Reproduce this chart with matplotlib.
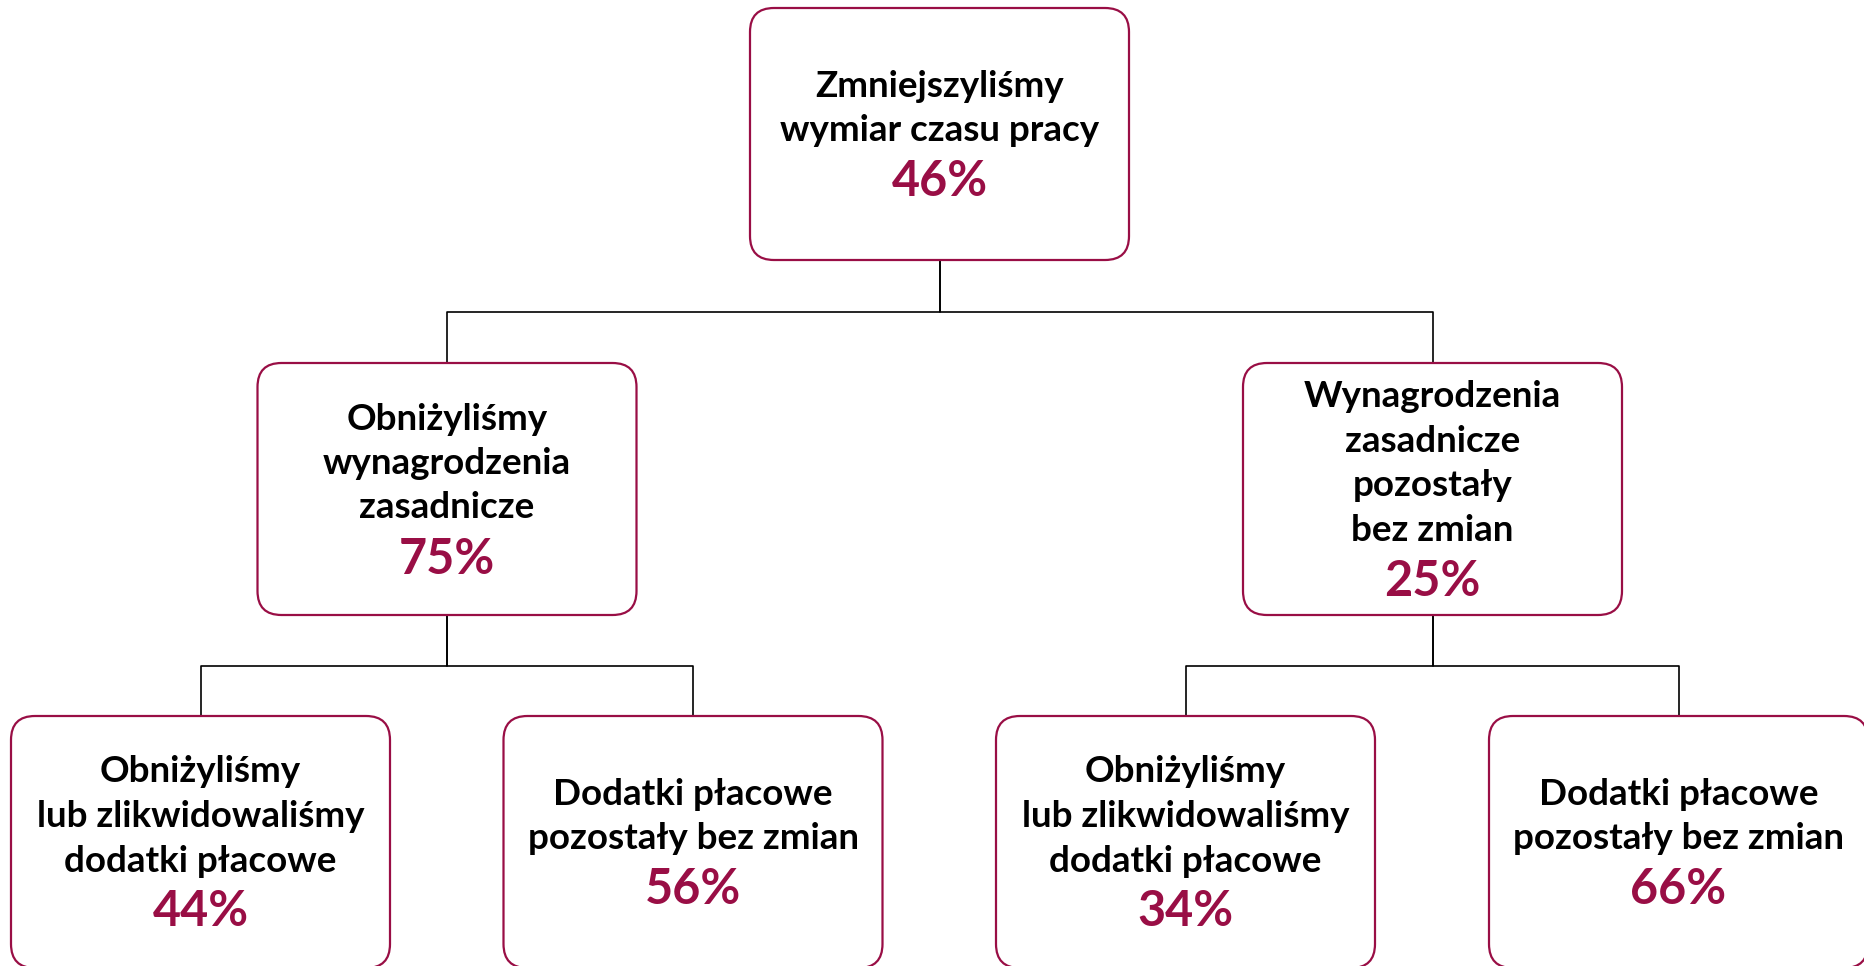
import matplotlib
matplotlib.use("Agg")
import matplotlib.pyplot as plt
from matplotlib.patches import FancyBboxPatch

# ---- data ----
labels = [
    ["Zmniejszyliśmy", "wymiar czasu pracy"],
    ["Obniżyliśmy", "wynagrodzenia", "zasadnicze"],
    ["Wynagrodzenia", "zasadnicze", "pozostały", "bez zmian"],
    ["Obniżyliśmy", "lub zlikwidowaliśmy", "dodatki płacowe"],
    ["Dodatki płacowe", "pozostały bez zmian"],
    ["Obniżyliśmy", "lub zlikwidowaliśmy", "dodatki płacowe"],
    ["Dodatki płacowe", "pozostały bez zmian"],
]
values = [46, 75, 25, 44, 56, 34, 66]
parents = [None, 0, 0, 1, 1, 2, 2]

# ---- layout (pixels) ----
W, H = 1864, 966
box_w, box_h = 379, 252
centers_x = [939.5, 447, 1432.5, 200.5, 693, 1185.5, 1678.5]
tops_y = [8, 363, 363, 716, 716, 716, 716]
line_gap = 44.5
pct_gap = 51
crimson = "#990E45"

fig = plt.figure(figsize=(W / 100, H / 100), dpi=100)
ax = fig.add_axes([0, 0, 1, 1])
ax.set_xlim(0, W)
ax.set_ylim(H, 0)
ax.axis("off")

font = "Lato"

# connectors
for i, p in enumerate(parents):
    if p is None:
        continue
    px = centers_x[p]
    pb = tops_y[p] + box_h
    ct = tops_y[i]
    mid = (pb + ct) / 2
    ax.plot([px, px, centers_x[i], centers_x[i]], [pb, mid, mid, ct],
            color="black", lw=1.2, solid_capstyle="butt", zorder=1)

for i, (lab, val) in enumerate(zip(labels, values)):
    cx = centers_x[i]
    top = tops_y[i]
    box = FancyBboxPatch((cx - box_w / 2, top), box_w, box_h,
                         boxstyle="round,pad=0,rounding_size=24",
                         linewidth=1.6, edgecolor=crimson, facecolor="white",
                         zorder=2)
    ax.add_patch(box)
    n = len(lab)
    span = (n - 1) * line_gap + pct_gap
    cy = top + box_h / 2
    y0 = cy - span / 2
    for k, line in enumerate(lab):
        ax.text(cx, y0 + k * line_gap, line, ha="center", va="center",
                fontsize=26.5, fontweight="bold", family=font, color="black",
                zorder=3)
    ax.text(cx, y0 + (n - 1) * line_gap + pct_gap, f"{val}%", ha="center",
            va="center", fontsize=35, fontweight="bold", family=font,
            color=crimson, zorder=3)

fig.savefig("out.png", dpi=100, facecolor="white")
